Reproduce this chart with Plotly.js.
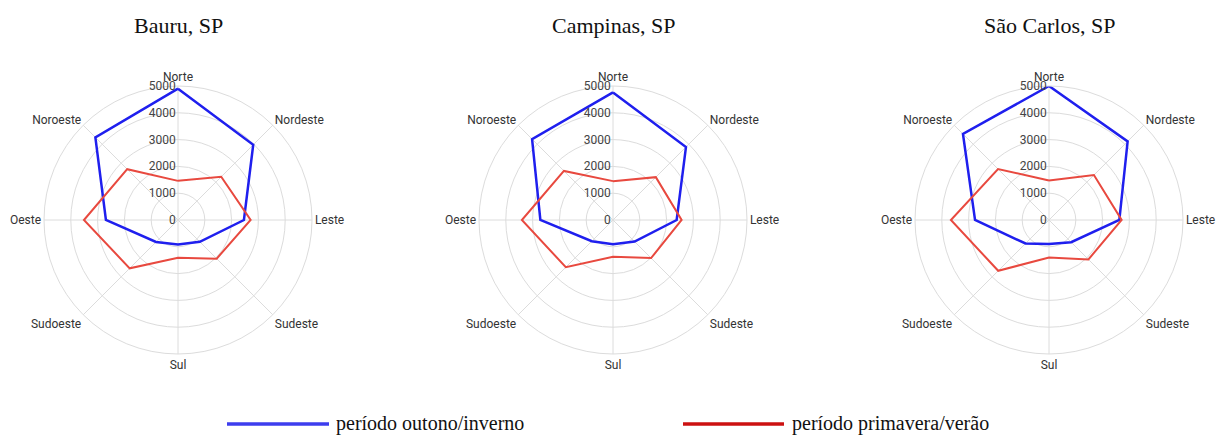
<!DOCTYPE html>
<html>
<head>
<meta charset="utf-8">
<script src="https://cdn.plot.ly/plotly-3.0.1.min.js"></script>
<style>html,body{margin:0;padding:0;background:#fff;}#chart{width:1216px;height:435px;}</style>
</head>
<body>
<div id="chart"></div>
<script>
// Directions (angular categories)
const directions = ["Norte", "Nordeste", "Leste", "Sudeste", "Sul", "Sudoeste", "Oeste", "Noroeste"];
const cities = ["Bauru, SP", "Campinas, SP", "São Carlos, SP"];
const seriesNames = ["período outono/inverno", "período primavera/verão"];
const radialTicks = [0, 1000, 2000, 3000, 4000, 5000];

// Values per city (outono/inverno, primavera/verão)
const bauruOutono    = [4900, 3970, 2460, 1150, 910, 1160, 2690, 4360];
const bauruPrimavera = [1460, 2280, 2710, 2040, 1410, 2550, 3510, 2680];
const campinasOutono    = [4760, 3850, 2375, 1140, 900, 1120, 2710, 4270];
const campinasPrimavera = [1450, 2260, 2560, 2010, 1375, 2490, 3400, 2590];
const saoCarlosOutono    = [5000, 4150, 2625, 1170, 900, 1240, 2760, 4540];
const saoCarlosPrimavera = [1475, 2370, 2710, 2080, 1400, 2680, 3660, 2690];

const outono = [bauruOutono, campinasOutono, saoCarlosOutono];
const primavera = [bauruPrimavera, campinasPrimavera, saoCarlosPrimavera];

const W = 1216, H = 435;
const centersX = [178, 613, 1049];
const centerY = 220, R = 134;

const blueLine = "#1f1fee";
const redLine = "#e8493f";

const traces = [];
const layout = {
  width: W, height: H,
  margin: {l: 0, r: 0, t: 0, b: 0},
  paper_bgcolor: "#ffffff",
  showlegend: false,
  annotations: [],
  shapes: []
};

function close(a) { return a.concat([a[0]]); }

cities.forEach((city, i) => {
  const key = i === 0 ? "polar" : "polar" + (i + 1);
  traces.push({
    type: "scatterpolar", mode: "lines", subplot: key,
    r: close(outono[i]), theta: close(directions), name: seriesNames[0],
    line: {color: blueLine, width: 2.5}, hoverinfo: "skip"
  });
  traces.push({
    type: "scatterpolar", mode: "lines", subplot: key,
    r: close(primavera[i]), theta: close(directions), name: seriesNames[1],
    line: {color: redLine, width: 2}, hoverinfo: "skip"
  });
  const cx = centersX[i];
  layout[key] = {
    domain: {
      x: [(cx - R) / W, (cx + R) / W],
      y: [(H - centerY - R) / H, (H - centerY + R) / H]
    },
    bgcolor: "rgba(0,0,0,0)",
    angularaxis: {
      type: "category",
      categoryarray: directions,
      rotation: 90, direction: "clockwise",
      showline: true, linecolor: "#dcdcdc", linewidth: 1,
      gridcolor: "#dcdcdc", gridwidth: 1,
      ticks: "",
      tickfont: {family: "Roboto, 'Noto Sans', sans-serif", size: 12, color: "#333333"}
    },
    radialaxis: {
      range: [0, 5000], angle: 90, side: "counterclockwise",
      tickvals: radialTicks, ticktext: radialTicks.map(String),
      showline: false, ticks: "", tickangle: 90,
      gridcolor: "#dcdcdc", gridwidth: 1,
      tickfont: {family: "Roboto, 'Noto Sans', sans-serif", size: 12, color: "#444444"}
    }
  };
  layout.annotations.push({
    text: city, xref: "paper", yref: "paper",
    x: cx / W, y: 1 - 25 / H, xanchor: "center", yanchor: "middle",
    showarrow: false,
    font: {family: "'Liberation Serif', 'DejaVu Serif', serif", size: 22, color: "#111111"}
  });
});

// Legend drawn as line segments + text
const legendItems = [
  {x0: 227, x1: 329, color: "#3d3dee", text: seriesNames[0], tx: 334},
  {x0: 683, x1: 784, color: "#cc1111", text: seriesNames[1], tx: 790}
];
const legendY = 424;
legendItems.forEach(it => {
  layout.shapes.push({
    type: "line", xref: "paper", yref: "paper",
    x0: it.x0 / W, x1: it.x1 / W, y0: 1 - legendY / H, y1: 1 - legendY / H,
    line: {color: it.color, width: 3.5}
  });
  layout.annotations.push({
    text: it.text, xref: "paper", yref: "paper",
    x: it.tx / W, y: 1 - (legendY - 1) / H, xanchor: "left", yanchor: "middle",
    showarrow: false,
    font: {family: "'Liberation Serif', 'DejaVu Serif', serif", size: 20, color: "#111111"}
  });
});

Plotly.newPlot("chart", traces, layout, {displayModeBar: false, staticPlot: true});
</script>
</body>
</html>
